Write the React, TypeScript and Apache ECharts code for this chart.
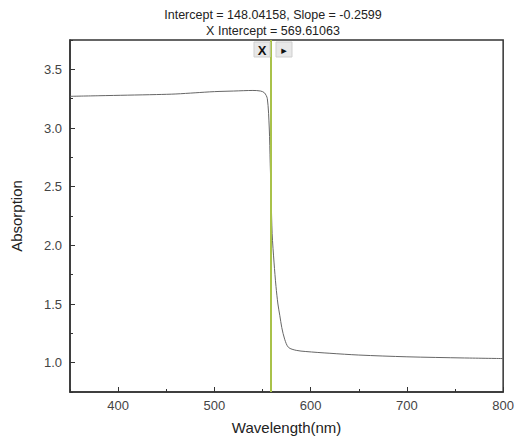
import React, { useEffect, useRef } from "react";
import * as echarts from "echarts";

const wavelength = [350, 380, 410, 440, 460, 480, 500, 520, 540, 548, 552, 555, 557, 558, 559, 560, 562, 564, 566, 568, 570, 573, 577, 585, 595, 620, 650, 700, 760, 800];
const absorption = [3.27, 3.275, 3.28, 3.285, 3.29, 3.3, 3.31, 3.315, 3.32, 3.315, 3.3, 3.25, 3.0, 2.7, 2.4, 2.1, 1.85, 1.65, 1.5, 1.4, 1.3, 1.2, 1.13, 1.105, 1.095, 1.08, 1.065, 1.05, 1.04, 1.035];
const fitLineX = 559;
const titleLines = ["Intercept = 148.04158, Slope = -0.2599", "X Intercept = 569.61063"];
const xName = "Wavelength(nm)";
const yName = "Absorption";

const FONT = "'Liberation Sans', Arial, sans-serif";

export default function App() {
  const ref = useRef<HTMLDivElement>(null);
  useEffect(() => {
    if (!ref.current) return;
    const chart = echarts.init(ref.current, undefined, { renderer: "svg" });
    const data = wavelength.map((w, i) => [w, absorption[i]]);
    chart.setOption({
      animation: false,
      backgroundColor: "#fff",
      textStyle: { fontFamily: FONT },
      title: {
        text: titleLines.join("\n"),
        left: 273,
        top: 7,
        padding: 0,
        textAlign: "center",
        textStyle: { fontSize: 12.5, fontWeight: "normal", color: "#222", lineHeight: 16, fontFamily: FONT },
      },
      grid: { left: 70, right: 11, top: 40, bottom: 54, show: true, borderColor: "#333", borderWidth: 1.5, backgroundColor: "transparent" },
      xAxis: [
        {
          type: "value", min: 350, max: 800, splitNumber: 5, position: "bottom",
          name: xName, nameLocation: "middle", nameGap: 28,
          nameTextStyle: { fontSize: 15, color: "#222", fontFamily: FONT },
          axisLine: { show: true, lineStyle: { color: "#333", width: 1.5 } },
          axisTick: { show: true, inside: true, length: 5, lineStyle: { color: "#333" } },
          axisLabel: { fontSize: 13, color: "#444", margin: 7, showMinLabel: false, showMaxLabel: true },
          splitLine: { show: false },
        },
        {
          type: "value", min: 350, max: 800, interval: 100, position: "bottom",
          axisLine: { show: false },
          axisTick: { show: true, inside: true, length: 3, lineStyle: { color: "#333" } },
          axisLabel: { show: false },
          splitLine: { show: false },
        },
      ],
      yAxis: [
        {
          type: "value", min: 0.75, max: 3.75, splitNumber: 6, position: "left",
          name: yName, nameLocation: "middle", nameGap: 46, nameRotate: 90,
          nameTextStyle: { fontSize: 15, color: "#222", fontFamily: FONT },
          axisLine: { show: true, lineStyle: { color: "#333", width: 1.5 } },
          axisTick: { show: true, inside: true, length: 5, lineStyle: { color: "#333" } },
          axisLabel: { fontSize: 13, color: "#444", margin: 8, showMinLabel: false, showMaxLabel: false, formatter: (v: number) => v.toFixed(1) },
          splitLine: { show: false },
        },
        {
          type: "value", min: 0.75, max: 3.75, interval: 0.5, position: "left",
          axisLine: { show: false },
          axisTick: { show: true, inside: true, length: 3, lineStyle: { color: "#333" } },
          axisLabel: { show: false },
          splitLine: { show: false },
        },
      ],
      series: [
        {
          type: "line",
          xAxisIndex: 0,
          yAxisIndex: 0,
          data,
          showSymbol: false,
          symbol: "none",
          smooth: 0.3,
          lineStyle: { color: "#666", width: 1 },
          markLine: {
            silent: true,
            symbol: "none",
            label: { show: false },
            lineStyle: { color: "#a9c24a", width: 2, type: "solid" },
            data: [{ xAxis: fitLineX }],
          },
          z: 3,
        },
      ],
      graphic: [
        { type: "rect", shape: { x: 254, y: 42, width: 16, height: 15 }, style: { fill: "#e8e8e8", stroke: "#cfcfcf", lineWidth: 1 }, z: 10 },
        { type: "text", x: 262, y: 50, style: { text: "X", fontSize: 13, fontWeight: "bold", fill: "#111", align: "center", verticalAlign: "middle", fontFamily: FONT }, z: 11 },
        { type: "rect", shape: { x: 276, y: 42, width: 16, height: 15 }, style: { fill: "#e8e8e8", stroke: "#cfcfcf", lineWidth: 1 }, z: 10 },
        { type: "text", x: 284, y: 50, style: { text: "▸", fontSize: 11, fill: "#111", align: "center", verticalAlign: "middle", fontFamily: "'DejaVu Sans', sans-serif" }, z: 11 },
      ],
    });
    return () => chart.dispose();
  }, []);
  return <div ref={ref} style={{ position: "absolute", left: 0, top: 0, width: 517, height: 446 }} />;
}
